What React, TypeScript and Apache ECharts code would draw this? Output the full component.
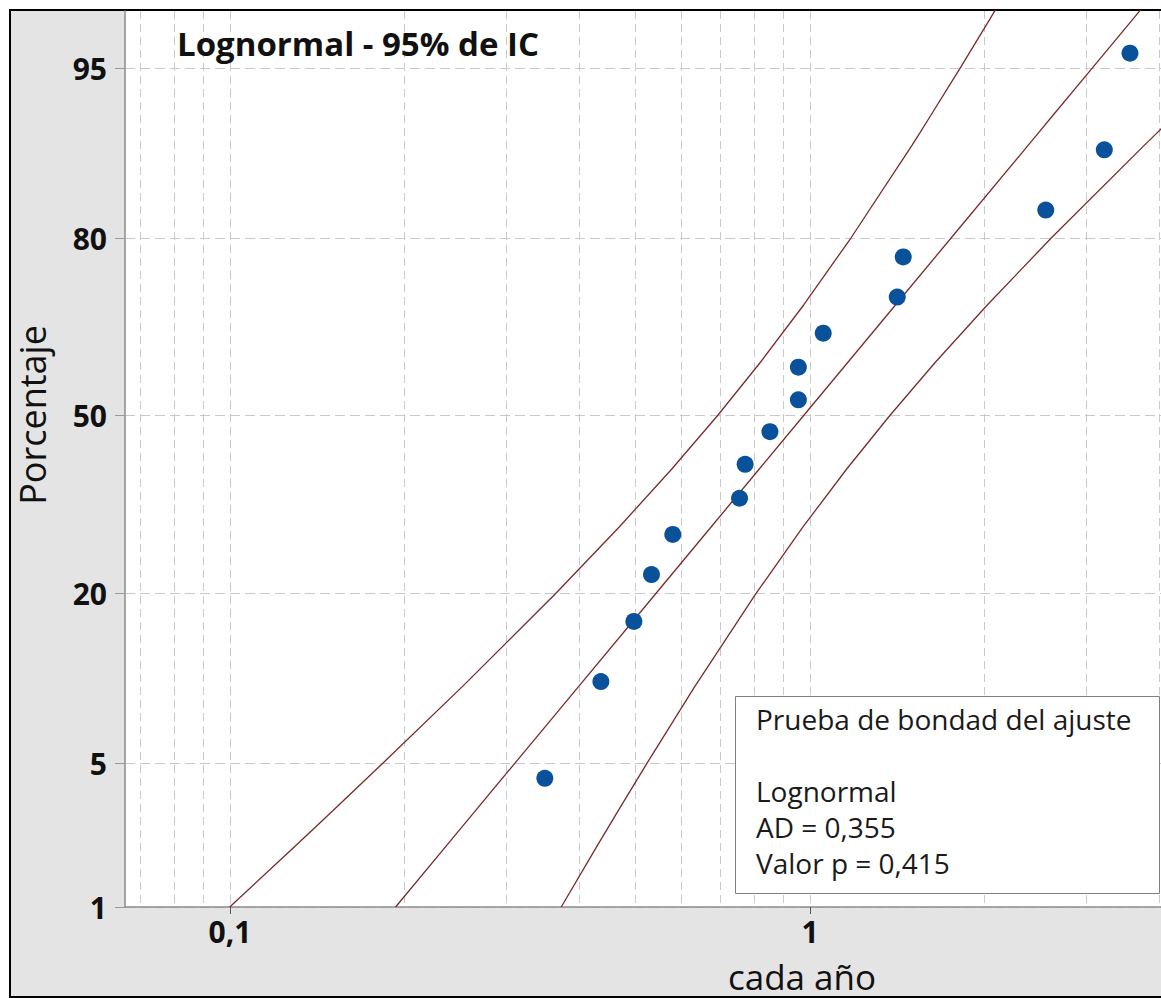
import React, { useEffect, useRef } from "react";
import * as echarts from "echarts";

// Data points: cumulative percentage (median ranks) and observed value
const pointPct = [4.3, 10.4, 16.5, 22.6, 28.7, 34.8, 40.9, 47.0, 53.0, 59.1, 65.2, 71.3, 77.4, 83.5, 89.6, 95.7];
const pointX = [0.349, 0.436, 0.497, 0.533, 0.58, 0.756, 0.773, 0.853, 0.955, 0.955, 1.054, 1.414, 1.448, 2.55, 3.217, 3.562];

// Fitted line and 95% confidence band, read at these percentages
const linePct = [1, 2, 3, 5, 10, 20, 30, 40, 50, 60, 70, 80, 90, 91, 92, 95, 97, 97.5];
const fitX = [0.193, 0.2333, 0.2631, 0.31, 0.3993, 0.5424, 0.6764, 0.817, 0.9745, 1.1625, 1.404, 1.751, 2.379, 2.479, 2.592, 3.064, 3.61, 3.815];
const ciLeftX = [0.0999, 0.1277, 0.149, 0.1836, 0.2518, 0.3644, 0.4698, 0.5773, 0.6925, 0.8215, 0.9752, 1.1765, 1.5, 1.548, 1.601, 1.814, 2.045, 2.127];
const ciRightX = [0.3725, 0.4261, 0.4646, 0.5237, 0.6332, 0.8073, 0.9739, 1.156, 1.372, 1.645, 2.0215, 2.606, 3.773, 3.97, 4.197, 5.175, 6.375, 6.84];

// Axis ticks
const yTickPct = [1, 5, 20, 50, 80, 95];
const xTickVals = [0.1, 1];
const xTickLabels = ["0,1", "1"];
const xGridVals = [0.07, 0.08, 0.09, 0.1, 0.2, 0.3, 0.4, 0.5, 0.6, 0.7, 0.8, 0.9, 1, 2, 3, 4];

// Text
const titleText = "Lognormal - 95% de IC";
const yName = "Porcentaje";
const xName = "cada año";
const boxLines = ["Prueba de bondad del ajuste", "", "Lognormal", "AD = 0,355", "Valor p = 0,415"];

// inverse standard normal CDF (probability scale transform)
function probit(p: number): number {
  const a = [-3.969683028665376e1, 2.209460984245205e2, -2.759285104469687e2, 1.38357751867269e2, -3.066479806614716e1, 2.506628277459239];
  const b = [-5.447609879822406e1, 1.615858368580409e2, -1.556989798598866e2, 6.680131188771972e1, -1.328068155288572e1];
  const c = [-7.784894002430293e-3, -3.223964580411365e-1, -2.400758277161838, -2.549732539343734, 4.374664141464968, 2.938163982698783];
  const d = [7.784695709041462e-3, 3.224671290700398e-1, 2.445134137142996, 3.754408661907416];
  const plow = 0.02425;
  if (p < plow) {
    const q = Math.sqrt(-2 * Math.log(p));
    return (((((c[0] * q + c[1]) * q + c[2]) * q + c[3]) * q + c[4]) * q + c[5]) / ((((d[0] * q + d[1]) * q + d[2]) * q + d[3]) * q + 1);
  }
  if (p > 1 - plow) {
    const q = Math.sqrt(-2 * Math.log(1 - p));
    return -(((((c[0] * q + c[1]) * q + c[2]) * q + c[3]) * q + c[4]) * q + c[5]) / ((((d[0] * q + d[1]) * q + d[2]) * q + d[3]) * q + 1);
  }
  const q = p - 0.5;
  const r = q * q;
  return ((((((a[0] * r + a[1]) * r + a[2]) * r + a[3]) * r + a[4]) * r + a[5]) * q) / (((((b[0] * r + b[1]) * r + b[2]) * r + b[3]) * r + b[4]) * r + 1);
}

const FONT = '"Open Sans", "Noto Sans", sans-serif';
const LINE_COLOR = "#7a2a2a";
const GRID_COLOR = "#c9c9c9";
const AXIS_COLOR = "#8c8c8c";

export default function App() {
  const ref = useRef<HTMLDivElement>(null);

  useEffect(() => {
    if (!ref.current) return;
    const chart = echarts.init(ref.current, null, { renderer: "svg" });

    const yTickZ = yTickPct.map((p) => probit(p / 100));
    const yMin = probit(0.01);
    const yMax = 1.9166;
    const xTickLog = xTickVals.map((v) => Math.log10(v));

    const mkLine = (xs: number[]) => linePct.map((p, i) => [Math.log10(xs[i]), probit(p / 100)]);

    const option: any = {
      animation: false,
      backgroundColor: "#ffffff",
      grid: {
        left: 125,
        right: 0,
        top: 11,
        bottom: 91,
        show: true,
        backgroundColor: "#ffffff",
        borderWidth: 0,
      },
      xAxis: [
        {
          type: "value",
          min: -1.181,
          max: 0.6052,
          position: "bottom",
          axisLine: { show: true, onZero: false, lineStyle: { color: AXIS_COLOR, width: 1.5 } },
          axisTick: { show: true, length: 7, customValues: xTickLog, lineStyle: { color: "#555" } },
          axisLabel: {
            show: true,
            customValues: xTickLog,
            margin: 9,
            fontFamily: FONT,
            fontSize: 30,
            fontWeight: "bold",
            color: "#111",
            formatter: (v: number) => {
              let best = 0;
              xTickLog.forEach((t, i) => {
                if (Math.abs(t - v) < Math.abs(xTickLog[best] - v)) best = i;
              });
              return xTickLabels[best];
            },
          },
          splitLine: { show: false },
        },
        {
          type: "value",
          min: -1.181,
          max: 0.6052,
          position: "top",
          axisLine: { show: false, onZero: false },
          axisTick: { show: false, customValues: xGridVals.map((v) => Math.log10(v)) },
          axisLabel: { show: false },
          splitLine: { show: true, lineStyle: { color: GRID_COLOR, type: [8, 5], width: 1 } },
        },
      ],
      yAxis: {
        type: "value",
        min: yMin,
        max: yMax,
        axisLine: { show: true, onZero: false, lineStyle: { color: AXIS_COLOR, width: 1.5 } },
        axisTick: { show: true, length: 10, customValues: yTickZ, lineStyle: { color: "#9a9a9a" } },
        axisLabel: {
          show: true,
          customValues: yTickZ,
          margin: 18,
          fontFamily: FONT,
          fontSize: 30,
          fontWeight: "bold",
          color: "#111",
          formatter: (v: number) => {
            let best = 0;
            yTickZ.forEach((t, i) => {
              if (Math.abs(t - v) < Math.abs(yTickZ[best] - v)) best = i;
            });
            return String(yTickPct[best]);
          },
        },
        splitLine: { show: true, lineStyle: { color: GRID_COLOR, type: [10, 5], width: 1 } },
      },
      graphic: [
        {
          type: "rect",
          z: -10,
          shape: { x: 10, y: 10, width: 1200, height: 987 },
          style: { fill: "#e4e4e4", stroke: "#000000", lineWidth: 2 },
          silent: true,
        },
        {
          type: "text",
          z: 50,
          x: 177,
          y: 43,
          style: { text: titleText, font: `bold 33px ${FONT}`, fill: "#111", align: "left", verticalAlign: "middle" },
        },
        {
          type: "text",
          z: 50,
          x: 32,
          y: 415,
          rotation: Math.PI / 2,
          style: { text: yName, font: `36px ${FONT}`, lineHeight: 38, fill: "#111", align: "center", verticalAlign: "middle" },
        },
        {
          type: "text",
          z: 50,
          x: 802,
          y: 976,
          style: { text: xName, font: `35px ${FONT}`, lineHeight: 36, fill: "#111", align: "center", verticalAlign: "middle" },
        },
        {
          type: "rect",
          z: 50,
          shape: { x: 735.5, y: 696.5, width: 424, height: 197 },
          style: { fill: "#ffffff", stroke: "#808080", lineWidth: 1 },
          silent: true,
        },
        {
          type: "text",
          z: 51,
          x: 756,
          y: 701,
          style: {
            text: boxLines.join("\n"),
            font: `28px ${FONT}`,
            lineHeight: 36,
            fill: "#1a1a1a",
            align: "left",
            verticalAlign: "top",
          },
        },
      ],
      series: [
        {
          type: "line",
          name: "fit",
          xAxisIndex: 0,
          data: mkLine(fitX),
          showSymbol: false,
          symbol: "none",
          lineStyle: { color: LINE_COLOR, width: 1.3 },
          z: 3,
        },
        {
          type: "line",
          name: "ciLeft",
          xAxisIndex: 0,
          data: mkLine(ciLeftX),
          showSymbol: false,
          symbol: "none",
          lineStyle: { color: LINE_COLOR, width: 1.3 },
          z: 3,
        },
        {
          type: "line",
          name: "ciRight",
          xAxisIndex: 0,
          data: mkLine(ciRightX),
          showSymbol: false,
          symbol: "none",
          lineStyle: { color: LINE_COLOR, width: 1.3 },
          z: 3,
        },
        {
          type: "scatter",
          name: "data",
          xAxisIndex: 0,
          data: pointPct.map((p, i) => [Math.log10(pointX[i]), probit(p / 100)]),
          symbol: "circle",
          symbolSize: 17,
          itemStyle: { color: "#0a519c", opacity: 1 },
          z: 5,
        },
      ],
    };

    chart.setOption(option);
    return () => chart.dispose();
  }, []);

  return <div ref={ref} style={{ position: "absolute", left: 0, top: 0, width: 1161, height: 998 }} />;
}
